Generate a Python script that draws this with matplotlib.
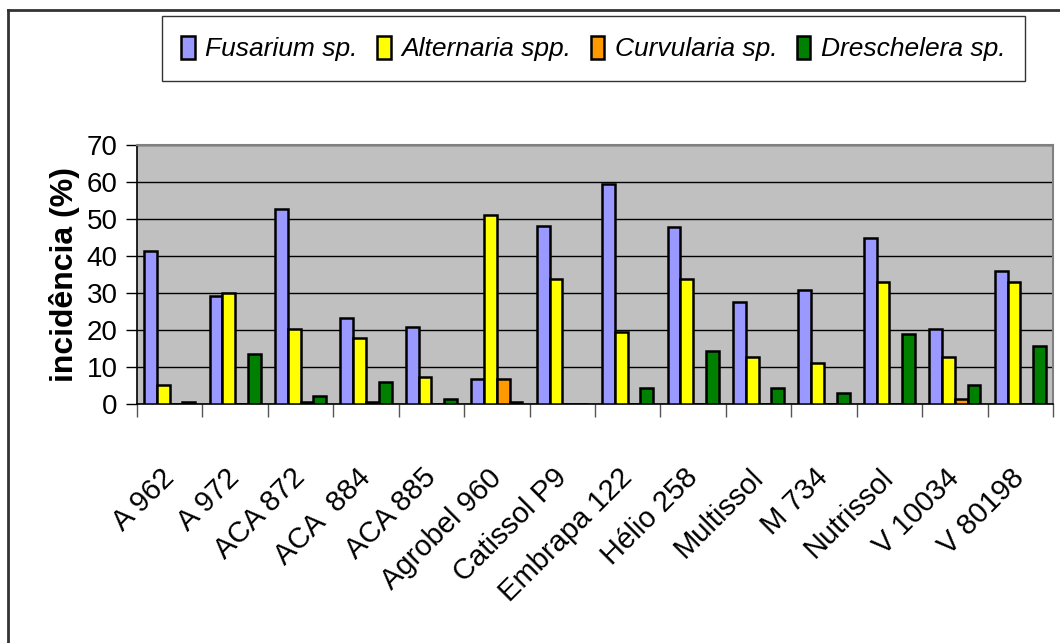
import numpy as np
import matplotlib.pyplot as plt
from matplotlib.lines import Line2D

plt.rcParams['font.family'] = ['Liberation Sans', 'DejaVu Sans']

cultivars = ["A 962", "A 972", "ACA 872", "ACA  884", "ACA 885", "Agrobel 960",
             "Catissol P9", "Embrapa 122", "Hélio 258", "Multissol", "M 734",
             "Nutrissol", "V 10034", "V 80198"]

fusarium    = [41.4, 29.3, 52.6, 23.2, 20.9, 6.7, 48.1, 59.5, 47.9, 27.7, 30.8, 45.0, 20.2, 36.0]
alternaria  = [5.1, 30.0, 20.2, 17.9, 7.4, 51.1, 33.9, 19.4, 33.9, 12.6, 11.2, 33.1, 12.6, 33.1]
curvularia  = [0, 0, 0.6, 0.6, 0, 6.7, 0, 0, 0, 0, 0, 0, 1.4, 0]
dreschelera = [0.6, 13.4, 2.2, 6.0, 1.4, 0.6, 0, 4.4, 14.3, 4.4, 2.9, 18.8, 5.1, 15.7]

series = [("Fusarium sp.", fusarium, "#9999FF"),
          ("Alternaria spp.", alternaria, "#FFFF00"),
          ("Curvularia sp.", curvularia, "#FF9900"),
          ("Dreschelera sp.", dreschelera, "#008000")]

fig = plt.figure(figsize=(10.6, 6.43), dpi=100)
ax = fig.add_axes([137 / 1060, 1 - 404 / 643, 916 / 1060, 259 / 643])
ax.set_facecolor("#C0C0C0")

x = np.arange(len(cultivars))
w = 0.195
for i, (name, vals, col) in enumerate(series):
    ax.bar(x + (i - 1.5) * w, vals, w, color=col, edgecolor="black",
           linewidth=1.8, label=name, zorder=3)

ax.set_xlim(-0.5, len(cultivars) - 0.5)
ax.set_ylim(0, 70)
ax.set_yticks(range(0, 71, 10))
ax.yaxis.grid(True, color="black", linewidth=1.0, zorder=0)
ax.tick_params(axis="y", labelsize=20, length=8, width=1, pad=6)

# category boundaries as ticks, labels at centres
ax.set_xticks(np.arange(-0.5, len(cultivars), 1))
ax.set_xticklabels([])
ax.tick_params(axis="x", which="major", length=9, width=1, color="#555555")
ax.set_xticks(x, minor=True)
ax.set_xticklabels(cultivars, minor=True, rotation=45, ha="right",
                   va="center", rotation_mode="anchor", fontsize=21)
ax.tick_params(axis="x", which="minor", length=0, pad=50)

for s in ["top", "right"]:
    ax.spines[s].set_color("#808080")
    ax.spines[s].set_linewidth(1.5)
ax.spines["left"].set_linewidth(1.2)
ax.spines["bottom"].set_linewidth(1.2)

ax.set_ylabel("incidência (%)", fontsize=23, fontweight="bold", labelpad=5)

leg = fig.legend(loc="center", bbox_to_anchor=(593.5 / 1060, 1 - 48.5 / 643),
                 ncol=4, prop={"style": "italic", "size": 19},
                 frameon=True, fancybox=False, edgecolor="black",
                 handlelength=0.5, handleheight=0.95, handletextpad=0.4,
                 columnspacing=0.75, borderpad=0.75)
leg.get_frame().set_linewidth(1.0)

# outer chart border (top and left)
fig.add_artist(Line2D([8 / 1060, 8 / 1060], [0, 1 - 10 / 643], color="#333333", lw=2))
fig.add_artist(Line2D([8 / 1060, 1], [1 - 10 / 643, 1 - 10 / 643], color="#333333", lw=2))

fig.savefig("out.png", dpi=100)
